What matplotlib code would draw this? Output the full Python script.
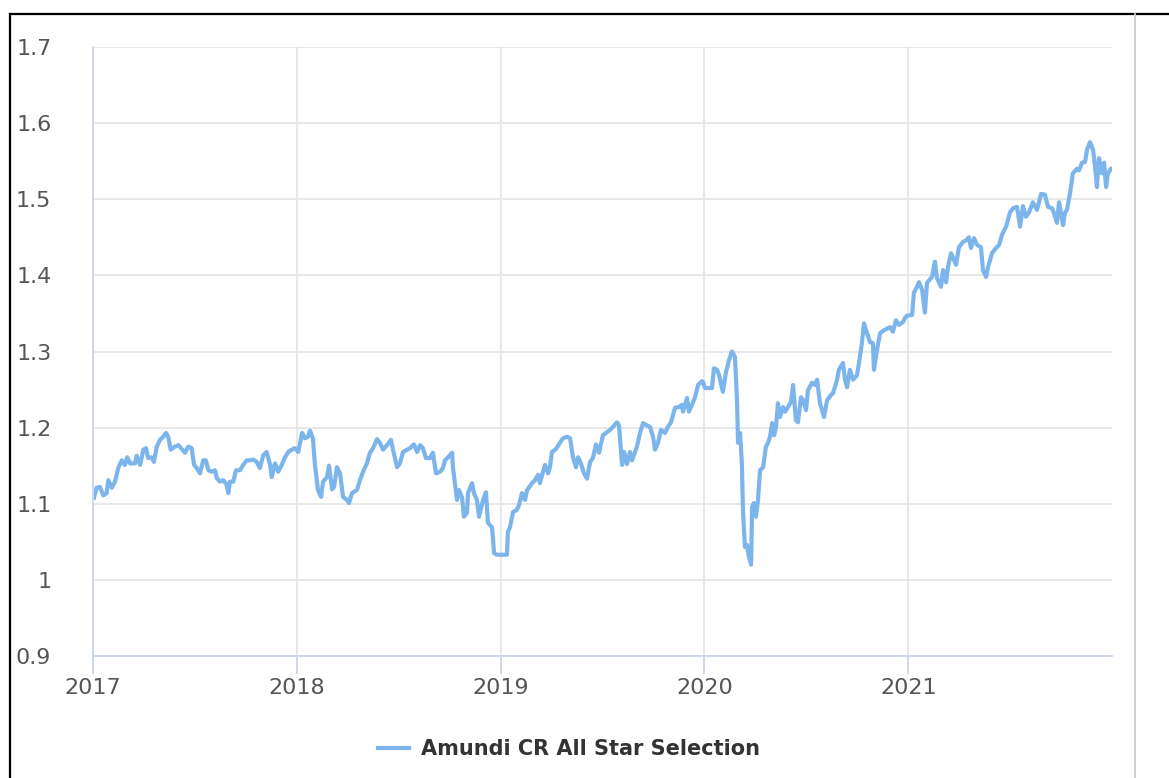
import matplotlib.pyplot as plt
from matplotlib.lines import Line2D
import numpy as np

# fund NAV (time in years after 2017-01-01)
t_offset = [
    .005, .018, .034, .051, .067, .075, .092, .108, .124, .141, .157, .168, .182, .206, .214, .231,
    .247, .260, .271, .288, .299, .313, .329, .345, .358, .369, .381, .402, .419, .435, .451, .468,
    .484, .496, .509, .525, .541, .554, .566, .582, .599, .607, .623, .639, .656, .664, .672, .688,
    .702, .721, .737, .754, .770, .787, .803, .819, .836, .852, .869, .877, .893, .909, .926, .942,
    .958, .975, .991, 1.007,
    1.026, 1.040, 1.055, 1.065, 1.079, 1.089, 1.104, 1.119, 1.129, 1.148, 1.158, 1.173, 1.183, 1.197,
    1.212, 1.227, 1.246, 1.256, 1.271, 1.295, 1.310, 1.325, 1.344, 1.359, 1.374, 1.394, 1.408, 1.423,
    1.443, 1.462, 1.472, 1.492, 1.506, 1.521, 1.541, 1.555, 1.575, 1.590, 1.605, 1.619, 1.634, 1.654,
    1.668, 1.683, 1.703, 1.717, 1.727, 1.742, 1.762, 1.766, 1.786, 1.796, 1.811, 1.820, 1.835, 1.840,
    1.860, 1.869, 1.884, 1.894, 1.914, 1.928, 1.938, 1.958, 1.968, 1.982, 2.012, 2.031,
    2.036, 2.046, 2.061, 2.080, 2.090, 2.105, 2.120, 2.130, 2.154, 2.169, 2.184, 2.193, 2.208, 2.218,
    2.233, 2.242, 2.252, 2.272, 2.291, 2.306, 2.326, 2.341, 2.355, 2.370, 2.380, 2.394, 2.409, 2.424,
    2.439, 2.453, 2.468, 2.483, 2.502, 2.522, 2.537, 2.552, 2.571, 2.581, 2.596, 2.606, 2.620, 2.635,
    2.645, 2.669, 2.684, 2.699, 2.718, 2.733, 2.748, 2.758, 2.772, 2.787, 2.807, 2.821, 2.836, 2.856,
    2.875, 2.890, 2.895, 2.915, 2.924, 2.939, 2.954, 2.969, 2.988,
    2.993, 3.003, 3.037, 3.047, 3.062, 3.072, 3.086, 3.091, 3.106, 3.121, 3.135, 3.150, 3.160, 3.165,
    3.175, 3.184, 3.189, 3.199, 3.209, 3.219, 3.229, 3.234, 3.243, 3.253, 3.263, 3.273, 3.288, 3.302,
    3.312, 3.322, 3.332, 3.342, 3.351, 3.361, 3.371, 3.386, 3.396, 3.410, 3.425, 3.435, 3.449, 3.459,
    3.474, 3.484, 3.499, 3.508, 3.528, 3.543, 3.553, 3.567, 3.587, 3.602, 3.621, 3.631, 3.651, 3.660,
    3.680, 3.690, 3.700, 3.714, 3.729, 3.749, 3.759, 3.773, 3.783, 3.798, 3.813, 3.827, 3.832, 3.847,
    3.862, 3.876, 3.896, 3.911, 3.925, 3.940, 3.955, 3.975, 3.984, 3.994, 4.019,
    4.028, 4.043, 4.053, 4.068, 4.082, 4.092, 4.117, 4.131, 4.141, 4.161, 4.171, 4.186, 4.195, 4.210,
    4.220, 4.235, 4.249, 4.269, 4.284, 4.298, 4.308, 4.323, 4.338, 4.357, 4.367, 4.382, 4.392, 4.411,
    4.431, 4.446, 4.460, 4.480, 4.500, 4.514, 4.534, 4.549, 4.563, 4.578, 4.593, 4.612, 4.632, 4.652,
    4.671, 4.686, 4.706, 4.715, 4.730, 4.740, 4.760, 4.769, 4.779, 4.794, 4.808, 4.828, 4.838, 4.853,
    4.868, 4.877, 4.892, 4.907, 4.917, 4.926, 4.936, 4.951, 4.961, 4.971, 4.980, 4.995,
]
nav = [
    1.108, 1.121, 1.122, 1.111, 1.114, 1.131, 1.121, 1.129, 1.147, 1.157, 1.151, 1.161, 1.153, 1.153, 1.163, 1.151,
    1.171, 1.173, 1.160, 1.161, 1.155, 1.175, 1.184, 1.188, 1.193, 1.188, 1.171, 1.175, 1.177, 1.172, 1.167, 1.175,
    1.173, 1.151, 1.147, 1.140, 1.157, 1.157, 1.144, 1.142, 1.144, 1.134, 1.129, 1.131, 1.125, 1.114, 1.129, 1.129,
    1.144, 1.144, 1.151, 1.157, 1.157, 1.158, 1.155, 1.147, 1.164, 1.168, 1.151, 1.135, 1.153, 1.142, 1.151, 1.161,
    1.168, 1.171, 1.173, 1.168,
    1.193, 1.186, 1.188, 1.196, 1.186, 1.151, 1.118, 1.109, 1.129, 1.135, 1.150, 1.119, 1.122, 1.148,
    1.140, 1.109, 1.105, 1.101, 1.114, 1.118, 1.131, 1.142, 1.153, 1.167, 1.173, 1.185, 1.180, 1.171,
    1.177, 1.184, 1.171, 1.148, 1.153, 1.168, 1.171, 1.173, 1.178, 1.168, 1.177, 1.173, 1.160, 1.160,
    1.167, 1.140, 1.142, 1.147, 1.157, 1.161, 1.167, 1.148, 1.105, 1.118, 1.108, 1.083, 1.088, 1.114,
    1.127, 1.114, 1.105, 1.083, 1.105, 1.115, 1.075, 1.069, 1.035, 1.033, 1.033, 1.033,
    1.063, 1.069, 1.089, 1.092, 1.098, 1.114, 1.105, 1.118, 1.127, 1.131, 1.138, 1.127, 1.142, 1.151,
    1.140, 1.148, 1.168, 1.172, 1.180, 1.186, 1.188, 1.186, 1.161, 1.148, 1.161, 1.153, 1.140, 1.133,
    1.155, 1.160, 1.178, 1.167, 1.190, 1.194, 1.197, 1.201, 1.207, 1.203, 1.151, 1.168, 1.152, 1.168,
    1.157, 1.175, 1.193, 1.206, 1.203, 1.201, 1.188, 1.171, 1.180, 1.197, 1.193, 1.201, 1.207, 1.226,
    1.227, 1.230, 1.221, 1.239, 1.221, 1.230, 1.240, 1.256, 1.261,
    1.260, 1.252, 1.252, 1.278, 1.276, 1.269, 1.252, 1.247, 1.273, 1.289, 1.300, 1.293, 1.236, 1.180,
    1.193, 1.153, 1.092, 1.043, 1.046, 1.030, 1.020, 1.096, 1.101, 1.083, 1.105, 1.144, 1.148, 1.175,
    1.180, 1.188, 1.206, 1.190, 1.200, 1.232, 1.214, 1.227, 1.221, 1.227, 1.234, 1.256, 1.210, 1.207,
    1.240, 1.236, 1.223, 1.249, 1.259, 1.256, 1.263, 1.232, 1.214, 1.236, 1.243, 1.245, 1.263, 1.276,
    1.285, 1.263, 1.253, 1.276, 1.263, 1.269, 1.286, 1.311, 1.337, 1.324, 1.312, 1.311, 1.276, 1.302,
    1.324, 1.327, 1.330, 1.332, 1.326, 1.341, 1.335, 1.339, 1.344, 1.347, 1.348,
    1.377, 1.385, 1.391, 1.381, 1.351, 1.390, 1.398, 1.418, 1.397, 1.385, 1.407, 1.391, 1.411, 1.429,
    1.423, 1.414, 1.437, 1.444, 1.446, 1.450, 1.436, 1.449, 1.440, 1.437, 1.407, 1.398, 1.411, 1.429,
    1.436, 1.440, 1.453, 1.464, 1.483, 1.488, 1.490, 1.464, 1.491, 1.477, 1.483, 1.496, 1.486, 1.507,
    1.506, 1.490, 1.488, 1.482, 1.469, 1.496, 1.466, 1.482, 1.486, 1.508, 1.534, 1.540, 1.538, 1.548,
    1.549, 1.565, 1.575, 1.565, 1.542, 1.516, 1.554, 1.534, 1.548, 1.516, 1.534, 1.540,
]
series_name = 'Amundi CR All Star Selection'
years = [2017, 2018, 2019, 2020, 2021]
y_ticks = [0.9, 1, 1.1, 1.2, 1.3, 1.4, 1.5, 1.6, 1.7]

t = 2017 + np.array(t_offset)

fig = plt.figure(figsize=(11.69, 7.78), dpi=100)
ax = fig.add_axes([93 / 1169, 1 - 656 / 778, (1112 - 93) / 1169, (656 - 47) / 778])

ax.plot(t, nav, color='#7cb5ec', lw=3.0, solid_joinstyle='round', label=series_name)

ax.set_xlim(2017, 2022)
ax.set_ylim(0.9, 1.7)
ax.set_xticks(years)
ax.set_xticklabels([str(y) for y in years])
ax.set_yticks(y_ticks)
ax.set_yticklabels(['%g' % v for v in y_ticks])

ax.grid(True, color='#e6e6e6', lw=1.3)
ax.set_axisbelow(True)
for s in ['top', 'right']:
    ax.spines[s].set_visible(False)
ax.spines['bottom'].set_color('#ccd6eb')
ax.spines['left'].set_color('#ccd6eb')
ax.spines['bottom'].set_linewidth(1.3)
ax.spines['left'].set_linewidth(1.3)
ax.tick_params(axis='x', length=13, width=1.3, color='#ccd6eb', pad=3,
               labelsize=16, labelcolor='#555555')
ax.tick_params(axis='y', length=0, pad=30, labelsize=16, labelcolor='#555555')

leg = fig.legend(loc='center', bbox_to_anchor=(569 / 1169, 1 - 749 / 778), frameon=False,
                 handlelength=1.5, handletextpad=0.6, prop={'weight': 'bold', 'size': 15})
for txt in leg.get_texts():
    txt.set_color('#333333')

# screenshot frame
fig.add_artist(Line2D([10 / 1169, 1], [1 - 14 / 778] * 2, color='black', lw=1.6))
fig.add_artist(Line2D([10 / 1169] * 2, [0, 1 - 14 / 778], color='black', lw=1.6))
fig.add_artist(Line2D([1135 / 1169] * 2, [0, 1 - 14 / 778], color='#cccccc', lw=1.3))

fig.savefig('out.png', dpi=100)
